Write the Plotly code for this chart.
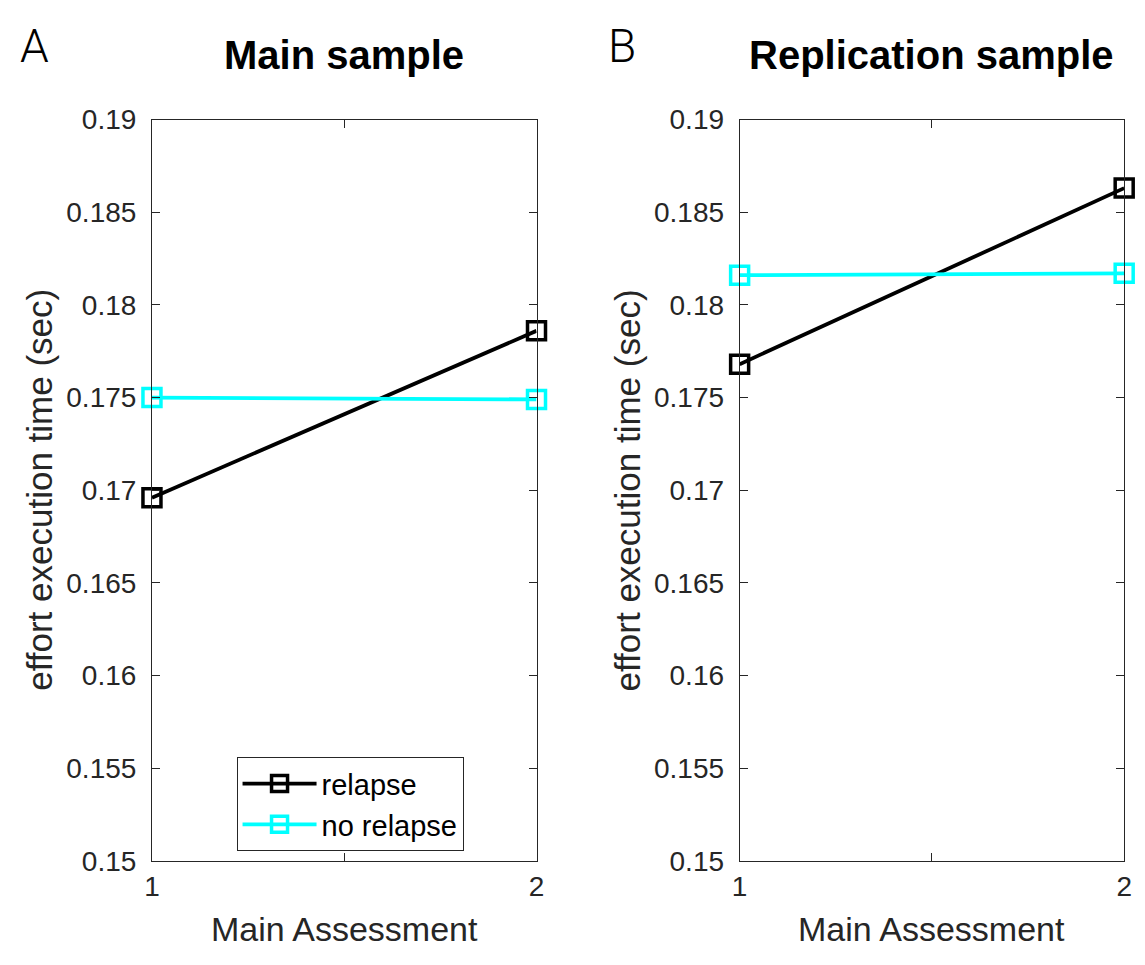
import plotly.graph_objects as go

# Data: effort execution time (sec) at the two main assessments
assessments = [1, 2]
main_relapse = [0.1696, 0.1786]
main_no_relapse = [0.1750, 0.1749]
repl_relapse = [0.1768, 0.1863]
repl_no_relapse = [0.1816, 0.1817]

panel_titles = ["Main sample", "Replication sample"]
panel_letters = ["A", "B"]
y_ticks = [0.15, 0.155, 0.16, 0.165, 0.17, 0.175, 0.18, 0.185, 0.19]
y_ticktext = ["0.15", "0.155", "0.16", "0.165", "0.17", "0.175", "0.18", "0.185", "0.19"]
x_ticks = [1, 1.5, 2]
x_ticktext = ["1", "", "2"]

FONT = "Liberation Sans, Arial, Helvetica, sans-serif"
TXT = "#262626"
W, H = 1145, 965

fig = go.Figure()

series = [
    ("relapse", "#000000"),
    ("no relapse", "#00FFFF"),
]
data = [(main_relapse, main_no_relapse), (repl_relapse, repl_no_relapse)]

for p, (rel, norel) in enumerate(data):
    xa = "x" if p == 0 else "x2"
    ya = "y" if p == 0 else "y2"
    for (name, color), vals in zip(series, (rel, norel)):
        fig.add_trace(go.Scatter(
            x=assessments, y=vals, mode="lines+markers", name=name,
            xaxis=xa, yaxis=ya, showlegend=(p == 0), cliponaxis=False,
            line=dict(color=color, width=3.8),
            marker=dict(symbol="square-open", size=18, color=color,
                        line=dict(color=color, width=3.5)),
        ))

x_dom = [(146 / W, 536 / W), (742 / W, 1132 / W)]
y_dom = ((H - 874) / H, (H - 108) / H)

axis_common = dict(
    showline=True, linecolor=TXT, linewidth=1, mirror="ticks",
    ticks="inside", ticklen=8, tickcolor=TXT, tickwidth=1,
    showgrid=False, zeroline=False,
    tickfont=dict(family=FONT, size=28, color=TXT),
)

for i in range(2):
    sx = "" if i == 0 else "2"
    fig.update_layout(**{
        f"xaxis{sx}": dict(axis_common, domain=x_dom[i], range=[1, 2],
                           tickvals=x_ticks, ticktext=x_ticktext,
                           anchor=f"y{sx}", ticklabelstandoff=0),
        f"yaxis{sx}": dict(axis_common, domain=y_dom, range=[0.15, 0.19],
                           tickvals=y_ticks, ticktext=y_ticktext,
                           anchor=f"x{sx}", ticklabelstandoff=9),
    })

annotations = []
for i in range(2):
    x0, x1 = x_dom[i][0] * W, x_dom[i][1] * W
    cx = (x0 + x1) / 2
    annotations.append(dict(
        text=f"<b>{panel_titles[i]}</b>", x=cx / W, y=1 - 41 / H,
        xref="paper", yref="paper", showarrow=False,
        font=dict(family=FONT, size=40, color="#000000"),
        xanchor="center", yanchor="middle"))
    annotations.append(dict(
        text=panel_letters[i], x=(x0 - 136) / W, y=1 - 32 / H,
        xref="paper", yref="paper", showarrow=False,
        font=dict(family="Roboto, Lato, " + FONT, size=46, color="#000000", weight=300),
        xanchor="left", yanchor="middle"))
    annotations.append(dict(
        text="effort execution time (sec)", x=(x0 - 114) / W, y=(y_dom[0] + y_dom[1]) / 2,
        xref="paper", yref="paper", showarrow=False, textangle=-90,
        font=dict(family=FONT, size=35, color=TXT),
        xanchor="center", yanchor="middle"))
    annotations.append(dict(
        text="Main Assessment", x=cx / W, y=1 - 944 / H,
        xref="paper", yref="paper", showarrow=False,
        font=dict(family=FONT, size=34, color=TXT),
        xanchor="center", yanchor="middle"))

fig.update_layout(
    width=W, height=H,
    margin=dict(l=0, r=0, t=0, b=0),
    paper_bgcolor="white", plot_bgcolor="white",
    annotations=annotations,
    legend=dict(
        x=462 / W, y=1 - 864 / H, xanchor="right", yanchor="bottom",
        bgcolor="white", bordercolor=TXT, borderwidth=1,
        font=dict(family=FONT, size=29, color="#000000"),
        itemwidth=74, tracegroupgap=0,
    ),
)

fig.write_html("out.html")
